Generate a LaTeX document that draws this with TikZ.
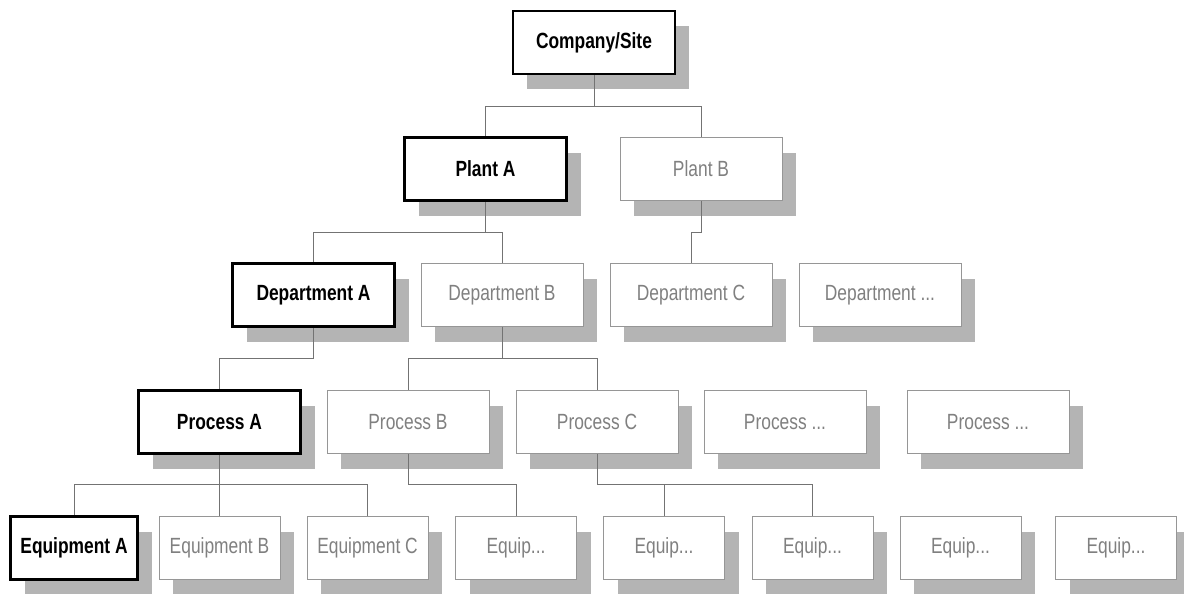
\documentclass[tikz,border=0pt]{standalone}
\usepackage{fontspec}
\setmainfont{Liberation Sans}[FakeStretch=0.79]
\usetikzlibrary{shadows}
\definecolor{shadowgray}{RGB}{180,180,180}
\definecolor{boxgray}{RGB}{150,150,150}
\definecolor{txtgray}{RGB}{128,128,128}
\definecolor{linegray}{RGB}{115,115,115}
\tikzset{
  basebox/.style={rectangle, inner sep=0pt, fill=white, minimum height=63pt,
    font=\fontsize{22}{24}\selectfont,
    general shadow={fill=shadowgray, shadow xshift=14pt, shadow yshift=-15pt}},
  hibox/.style={basebox, draw=black, line width=2.8pt, font=\fontsize{22}{24}\selectfont\bfseries},
  lobox/.style={basebox, draw=boxgray, line width=0.9pt, text=txtgray},
  wide/.style={minimum width=162pt},
  narrow/.style={minimum width=121pt},
  link/.style={draw=linegray, line width=1pt}
}
\begin{document}
\begin{tikzpicture}[x=1pt,y=-1pt]
\useasboundingbox (0,0) rectangle (1184,594);
% level 0
\node[hibox, wide] (co) at (594,42.5) {Company/Site};
% level 1
\node[hibox, wide] (pa) at (485.5,169) {Plant A};
\node[lobox, wide] (pb) at (701,169) {Plant B};
% level 2
\node[hibox, wide] (da) at (313.5,295) {Department A};
\node[lobox, wide] (db) at (502,295) {Department B};
\node[lobox, wide] (dc) at (691,295) {Department C};
\node[lobox, wide] (dd) at (880,295) {Department ...};
% level 3
\node[hibox, wide] (ra) at (219.5,422) {Process A};
\node[lobox, wide] (rb) at (408,422) {Process B};
\node[lobox, wide] (rc) at (597,422) {Process C};
\node[lobox, wide] (rd) at (785,422) {Process ...};
\node[lobox, wide] (re) at (988,422) {Process ...};
% level 4
\node[hibox, minimum width=127pt] (ea) at (74,548) {Equipment A};
\node[lobox, narrow] (eb) at (219.5,548) {Equipment B};
\node[lobox, narrow] (ec) at (367.5,548) {Equipment C};
\node[lobox, narrow] (ed) at (516,548) {Equip...};
\node[lobox, narrow] (ee) at (664,548) {Equip...};
\node[lobox, narrow] (ef) at (812.5,548) {Equip...};
\node[lobox, narrow] (eg) at (960.5,548) {Equip...};
\node[lobox, narrow] (eh) at (1116,548) {Equip...};
% junctions
\coordinate (j0) at (594,106);
\coordinate (j1) at (485.5,232);
\coordinate (j2a) at (701,232);
\coordinate (j2b) at (691,232);
\coordinate (j3) at (313.5,358);
\coordinate (j4) at (502,358);
\coordinate (j5) at (219.5,484);
\coordinate (j6) at (408,484);
\coordinate (j7) at (597,484);
% connectors
\path[link] (co.south) -- (j0) -| (pa.north);
\path[link] (j0) -| (pb.north);
\path[link] (pa.south) -- (j1) -| (da.north);
\path[link] (j1) -| (db.north);
\path[link] (pb.south) -- (j2a) -- (j2b) -- (dc.north);
\path[link] (da.south) -- (j3) -| (ra.north);
\path[link] (db.south) -- (j4) -| (rb.north);
\path[link] (j4) -| (rc.north);
\path[link] (ra.south) -- (eb.north);
\path[link] (j5) -| (ea.north);
\path[link] (j5) -| (ec.north);
\path[link] (rb.south) -- (j6) -| (ed.north);
\path[link] (rc.south) -- (j7) -| (ee.north);
\path[link] (j7) -| (ef.north);
\end{tikzpicture}
\end{document}
